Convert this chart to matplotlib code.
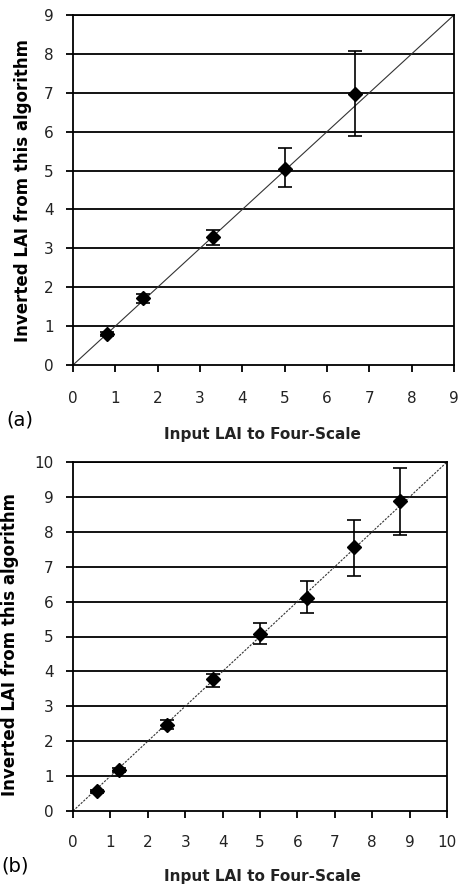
import matplotlib.pyplot as plt

plt.rcParams['font.family'] = ['DejaVu Sans']

# panel (a)
a_x = [0.8, 1.65, 3.3, 5.0, 6.66]
a_y = [0.80, 1.72, 3.28, 5.04, 6.98]
a_lo = [0.06, 0.12, 0.20, 0.46, 1.10]
a_hi = [0.06, 0.11, 0.19, 0.54, 1.09]

# panel (b)
b_x = [0.64, 1.24, 2.5, 3.75, 5.0, 6.26, 7.51, 8.74]
b_y = [0.57, 1.17, 2.47, 3.79, 5.08, 6.10, 7.56, 8.87]
b_lo = [0.04, 0.06, 0.11, 0.24, 0.30, 0.43, 0.83, 0.97]
b_hi = [0.04, 0.06, 0.13, 0.14, 0.31, 0.49, 0.77, 0.96]

ylab = 'Inverted LAI from this algorithm'
xlab = 'Input LAI to Four-Scale'

fig = plt.figure(figsize=(4.59, 8.86), dpi=100)
ax0 = fig.add_axes([73/459, 1-365/886, 381/459, 350/886])
ax1 = fig.add_axes([73/459, 1-811/886, 374/459, 349/886])


def style(ax, vmax, ls, xpad):
    ax.set_xlim(0, vmax)
    ax.set_ylim(0, vmax)
    ax.set_xticks(range(vmax + 1))
    ax.set_yticks(range(vmax + 1))
    for v in range(1, vmax + 1):
        ax.axhline(v, color='black', lw=1.3, zorder=1)
    ax.plot([0, vmax], [0, vmax], color='#333333', lw=0.8, ls=ls, zorder=2)
    for s in ax.spines.values():
        s.set_linewidth(1.3)
    ax.tick_params(axis='x', length=5, width=1.3, pad=xpad, labelsize=11, labelcolor='#222222')
    ax.tick_params(axis='y', length=5, width=1.3, pad=9, labelsize=11, labelcolor='#222222')


style(ax0, 9, '-', 14)
ax0.errorbar(a_x, a_y, yerr=[a_lo, a_hi], fmt='D', color='black', ms=7,
             capsize=5, elinewidth=1.2, capthick=1.2, zorder=3)

style(ax1, 10, (0, (2, 1.2)), 12)
ax1.errorbar(b_x, b_y, yerr=[b_lo, b_hi], fmt='D', color='black', ms=7,
             capsize=5, elinewidth=1.2, capthick=1.2, zorder=3)

fig.text(23/459, 1-191/886, ylab, rotation=90, ha='center', va='center',
         fontsize=12, fontweight='bold')
fig.text(10/459, 1-645/886, ylab, rotation=90, ha='center', va='center',
         fontsize=12, fontweight='bold')

fig.text(262/459, 1-435/886, xlab, ha='center', va='center', fontsize=11, fontweight='bold', color='#222222')
fig.text(262/459, 1-876/886, xlab, ha='center', va='center', fontsize=11, fontweight='bold', color='#222222')

fig.text(6/459, 1-420/886, '(a)', ha='left', va='center', fontsize=14)
fig.text(1/459, 1-866/886, '(b)', ha='left', va='center', fontsize=14)

fig.savefig('out.png', dpi=100)
